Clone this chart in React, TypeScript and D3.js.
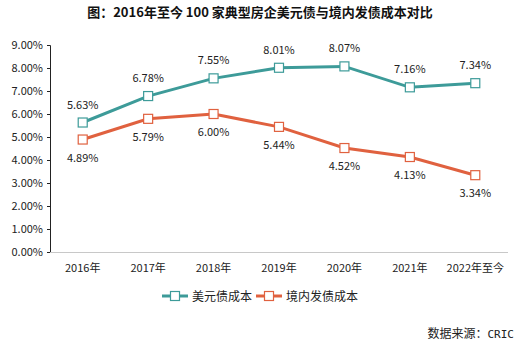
import React, { useEffect, useRef } from 'react';
import * as d3 from 'd3';

const years = ['2016年', '2017年', '2018年', '2019年', '2020年', '2021年', '2022年至今'];
const usdCost = [5.63, 6.78, 7.55, 8.01, 8.07, 7.16, 7.34];
const domesticCost = [4.89, 5.79, 6.0, 5.44, 4.52, 4.13, 3.34];
const yTicks = [0, 1, 2, 3, 4, 5, 6, 7, 8, 9];

const TEAL = '#3d9b99';
const ORANGE = '#e0613f';
const FONT = '"Noto Sans CJK SC", "Noto Sans", sans-serif';

export default function App() {
  const svgRef = useRef<SVGSVGElement>(null);

  useEffect(() => {
    if (!svgRef.current) return;
    const svg = d3.select(svgRef.current);
    svg.selectAll('*').remove();

    const left = 50, right = 508, top = 45, bottom = 252;

    const x = d3.scaleBand().domain(years).range([left, right]);
    const y = d3.scaleLinear().domain([0, 9]).range([bottom, top]);
    const cx = (d: string) => x(d)! + x.bandwidth() / 2;

    // title
    svg.append('text')
      .attr('x', 260).attr('y', 17)
      .attr('text-anchor', 'middle')
      .attr('font-family', '"Noto Sans CJK SC", serif')
      .attr('font-weight', 'bold')
      .attr('font-size', 13)
      .attr('fill', '#111')
      .text('图：2016年至今 100 家典型房企美元债与境内发债成本对比');

    // y axis
    const yAxis = svg.append('g')
      .attr('transform', `translate(${left},0)`)
      .call(d3.axisLeft(y).tickValues(yTicks).tickSize(3).tickFormat(d => `${(+d).toFixed(2)}%`));
    yAxis.select('.domain').attr('stroke', '#222');
    yAxis.selectAll('.tick line').attr('stroke', '#222');
    yAxis.selectAll('text')
      .attr('font-family', FONT).attr('font-size', 11).attr('fill', '#222').attr('dx', -1);

    // x axis
    svg.append('line')
      .attr('x1', left).attr('x2', right)
      .attr('y1', bottom + 0.5).attr('y2', bottom + 0.5)
      .attr('stroke', '#c8c8c8');
    svg.append('g').selectAll('text')
      .data(years).join('text')
      .attr('x', d => cx(d)).attr('y', bottom + 20)
      .attr('text-anchor', 'middle')
      .attr('font-family', FONT).attr('font-size', 11).attr('fill', '#222')
      .text(d => d);

    const series = [
      { values: usdCost, color: TEAL, dy: -14 },
      { values: domesticCost, color: ORANGE, dy: 22 },
    ];

    const line = d3.line<number>()
      .x((_, i) => cx(years[i]))
      .y(v => y(v));

    series.forEach(s => {
      svg.append('path')
        .datum(s.values)
        .attr('d', line)
        .attr('fill', 'none')
        .attr('stroke', s.color)
        .attr('stroke-width', 3);

      svg.append('g').selectAll('rect')
        .data(s.values).join('rect')
        .attr('x', (_, i) => cx(years[i]) - 4.5)
        .attr('y', v => y(v) - 4.5)
        .attr('width', 9).attr('height', 9)
        .attr('fill', '#fff')
        .attr('stroke', s.color)
        .attr('stroke-width', 1.2);

      svg.append('g').selectAll('text')
        .data(s.values).join('text')
        .attr('x', (_, i) => cx(years[i]))
        .attr('y', v => y(v) + s.dy)
        .attr('text-anchor', 'middle')
        .attr('font-family', FONT).attr('font-size', 11).attr('fill', '#222')
        .text(v => `${v.toFixed(2)}%`);
    });

    // legend
    const legend = [
      { name: '美元债成本', color: TEAL, x: 162 },
      { name: '境内发债成本', color: ORANGE, x: 256 },
    ];
    const ly = 296;
    legend.forEach(l => {
      svg.append('line')
        .attr('x1', l.x).attr('x2', l.x + 26)
        .attr('y1', ly).attr('y2', ly)
        .attr('stroke', l.color).attr('stroke-width', 3);
      svg.append('rect')
        .attr('x', l.x + 13 - 4.5).attr('y', ly - 4.5)
        .attr('width', 9).attr('height', 9)
        .attr('fill', '#fff').attr('stroke', l.color).attr('stroke-width', 1.2);
      svg.append('text')
        .attr('x', l.x + 30).attr('y', ly + 4.5)
        .attr('font-family', FONT).attr('font-size', 12).attr('fill', '#222')
        .text(l.name);
    });

    // source note
    const src = svg.append('text')
      .attr('x', 514).attr('y', 338)
      .attr('text-anchor', 'end')
      .attr('font-size', 12).attr('fill', '#222');
    src.append('tspan').attr('font-family', FONT).text('数据来源：');
    src.append('tspan').attr('font-family', '"DejaVu Sans Mono", monospace').attr('font-size', 11).text('CRIC');
  }, []);

  return (
    <div style={{ position: 'absolute', left: 0, top: 0, width: 520, height: 342, background: '#fff' }}>
      <svg ref={svgRef} width={520} height={342} />
    </div>
  );
}
